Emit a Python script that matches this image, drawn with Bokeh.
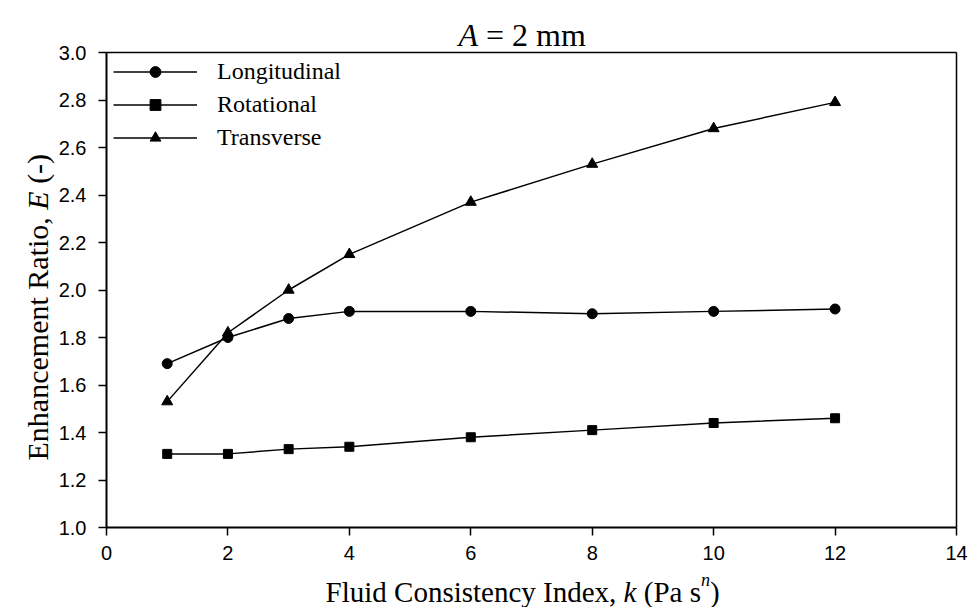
from bokeh.plotting import figure
from bokeh.models import Range1d, Label, FixedTicker, PrintfTickFormatter, LinearAxis
from bokeh.embed import file_html
from bokeh.resources import INLINE

# ---- data ----
k_values = [1, 2, 3, 4, 6, 8, 10, 12]
longitudinal = [1.69, 1.80, 1.88, 1.91, 1.91, 1.90, 1.91, 1.92]
rotational = [1.31, 1.31, 1.33, 1.34, 1.38, 1.41, 1.44, 1.46]
transverse = [1.53, 1.82, 2.00, 2.15, 2.37, 2.53, 2.68, 2.79]
x_ticks = [0, 2, 4, 6, 8, 10, 12, 14]
y_ticks = [1.0, 1.2, 1.4, 1.6, 1.8, 2.0, 2.2, 2.4, 2.6, 2.8, 3.0]

W, H = 973, 607
# pixel box of the data area inside the canvas
FL, FR, FT, FB = 106, 956, 52, 527
XMIN, XMAX, YMIN, YMAX = 0, 14, 1.0, 3.0

def dx(px):
    return XMIN + (px - FL) * (XMAX - XMIN) / (FR - FL)

def dy(py):
    return YMIN + (FB - py) * (YMAX - YMIN) / (FB - FT)

# the frame covers the whole canvas; axes are drawn at fixed locations
p = figure(width=W, height=H, output_backend="svg", toolbar_location=None,
           x_range=Range1d(dx(0), dx(W)), y_range=Range1d(dy(H), dy(0)),
           min_border_left=0, min_border_right=0,
           min_border_top=0, min_border_bottom=0)
p.background_fill_color = "white"
p.border_fill_color = "white"
p.grid.visible = False
p.outline_line_color = None

def style_axis(ax):
    ax.axis_line_width = 2
    ax.axis_line_color = "black"
    ax.major_tick_out = 8
    ax.major_tick_in = 0
    ax.major_tick_line_width = 1.5
    ax.major_tick_line_color = "black"
    ax.minor_tick_out = 0
    ax.minor_tick_in = 0
    ax.major_label_text_font = "Liberation Sans"
    ax.major_label_text_font_size = "20px"
    ax.major_label_text_color = "black"
    ax.axis_label = None

xa = p.xaxis[0]
ya = p.yaxis[0]
style_axis(xa)
style_axis(ya)
xa.ticker = FixedTicker(ticks=x_ticks)
ya.ticker = FixedTicker(ticks=y_ticks)
ya.formatter = PrintfTickFormatter(format="%.1f")
xa.fixed_location = YMIN
ya.fixed_location = XMIN
xa.bounds = (XMIN, XMAX)
ya.bounds = (YMIN, YMAX)
xa.major_label_standoff = 10
ya.major_label_standoff = 12

# top and right borders of the box
top_ax = LinearAxis(fixed_location=YMAX, bounds=(XMIN, XMAX), ticker=FixedTicker(ticks=[]),
                    axis_line_width=1.5, axis_line_color="black",
                    major_tick_out=0, major_tick_in=0, minor_tick_out=0, minor_tick_in=0,
                    major_label_text_alpha=0)
right_ax = LinearAxis(fixed_location=XMAX, bounds=(YMIN, YMAX), ticker=FixedTicker(ticks=[]),
                      axis_line_width=1.5, axis_line_color="black",
                      major_tick_out=0, major_tick_in=0, minor_tick_out=0, minor_tick_in=0,
                      major_label_text_alpha=0)
p.add_layout(top_ax, "above")
p.add_layout(right_ax, "right")

series = [("Longitudinal", longitudinal, "circle", 10),
          ("Rotational", rotational, "square", 9),
          ("Transverse", transverse, "triangle", 11)]
for name, vals, marker, size in series:
    p.line(k_values, vals, line_color="black", line_width=1.5, legend_label=name)
    p.scatter(k_values, vals, marker=marker, size=size, fill_color="black",
              line_color="black", legend_label=name)

lg = p.legend[0]
lg.margin = 0
lg.padding = 0
lg.border_line_color = None
lg.background_fill_alpha = 0
lg.glyph_width = 84
lg.glyph_height = 27
lg.label_height = 27
lg.spacing = 6
lg.label_standoff = 20
lg.label_text_font = "Liberation Serif"
lg.label_text_font_size = "24px"
lg.label_text_color = "black"
legend_h = 3 * 27 + 2 * 6
lg.location = (113, H - (57.5 + legend_h))

SERIF = "Liberation Serif"

def lab(px, py, text, size, style="normal", angle=0.0, align="left"):
    # px, py: canvas pixel position (from top-left); frame == canvas
    p.add_layout(Label(x=px, y=H - py, x_units="screen", y_units="screen",
                       text=text, angle=angle,
                       text_font=SERIF, text_font_size=f"{size}px",
                       text_font_style=style, text_align=align,
                       text_baseline="alphabetic", text_color="black"))

# title: A = 2 mm
TS = 32
lab(458, 34, "A", TS, "italic")
lab(458 + 0.611 * TS + 0.25 * TS, 34, "= 2 mm", TS)

# x label
XS = 29
xb = 591
P = 325 + 10.03 * XS
lab(P, xb, "Fluid Consistency Index,", XS, align="right")
kx = P + 0.25 * XS
lab(kx, xb, "k", XS, "italic")
px2 = kx + 0.444 * XS + 0.25 * XS
lab(px2, xb, "(Pa s", XS)
nx = px2 + 1.972 * XS
lab(nx, xb - 12, "n", 18, "italic")
lab(nx + 0.5 * 18, xb, ")", XS)

# y label (rotated)
YS = 30
yb = 37
Q = 460 - 8.11 * YS
lab(yb, Q, "Enhancement Ratio,", YS, angle=1.5707963, align="right")
ey = Q - 0.25 * YS
lab(yb, ey, "E", YS, "italic", angle=1.5707963)
lab(yb, ey - 0.611 * YS - 0.25 * YS, "(-)", YS, angle=1.5707963)

open("out.html", "w").write(file_html(p, INLINE))
